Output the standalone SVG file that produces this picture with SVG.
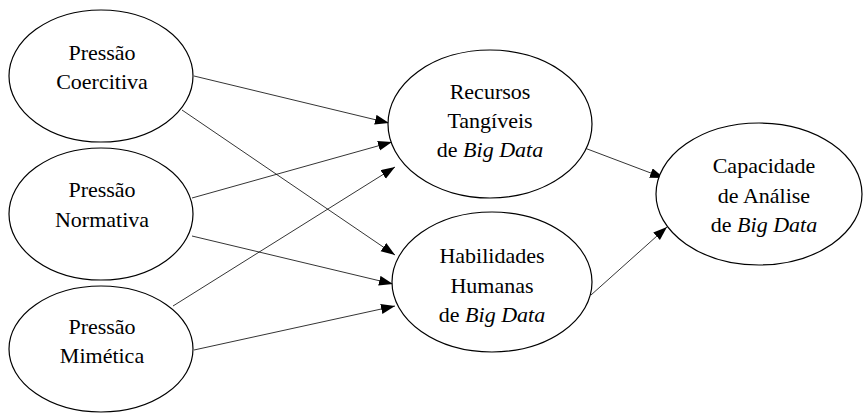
<svg xmlns="http://www.w3.org/2000/svg" width="864" height="414" viewBox="0 0 864 414">
<style>
.node ellipse{fill:#fff;stroke:#000;stroke-width:1.2}
.node text{font-family:"Liberation Serif","Times New Roman",serif;font-size:22px;fill:#000;text-anchor:middle}
.it{font-style:italic}
#connectors line{stroke:#000;stroke-width:0.8}
</style>
<defs>
<marker id="ah" markerUnits="userSpaceOnUse" markerWidth="15" markerHeight="11" refX="14" refY="5" orient="auto">
<path d="M0,0 L14,5 L0,10 z" fill="#000"/>
</marker>
</defs>
<rect width="864" height="414" fill="#fff"/>
<g id="connectors">
<line x1="194" y1="76" x2="389" y2="123" marker-end="url(#ah)"/>
<line x1="192" y1="198" x2="392" y2="142" marker-end="url(#ah)"/>
<line x1="173" y1="306" x2="395" y2="167" marker-end="url(#ah)"/>
<line x1="182" y1="110" x2="395" y2="255" marker-end="url(#ah)"/>
<line x1="192" y1="236" x2="393" y2="284" marker-end="url(#ah)"/>
<line x1="194" y1="350" x2="395" y2="306" marker-end="url(#ah)"/>
<line x1="582" y1="147" x2="664" y2="178" marker-end="url(#ah)"/>
<line x1="591" y1="295" x2="667" y2="227" marker-end="url(#ah)"/>
</g>
<g id="coercitiva" class="node">
<ellipse cx="101" cy="76" rx="92" ry="66"/>
<text x="102" y="60">Pressão</text>
<text x="102" y="89">Coercitiva</text>
</g>
<g id="normativa" class="node">
<ellipse cx="101" cy="214" rx="92" ry="66"/>
<text x="102" y="197">Pressão</text>
<text x="102" y="227">Normativa</text>
</g>
<g id="mimetica" class="node">
<ellipse cx="101" cy="349" rx="92" ry="63"/>
<text x="102" y="334">Pressão</text>
<text x="102" y="363">Mimética</text>
</g>
<g id="recursos" class="node">
<ellipse cx="490" cy="124" rx="102" ry="74"/>
<text x="490" y="99">Recursos</text>
<text x="490" y="128">Tangíveis</text>
<text x="490" y="157">de <tspan class="it">Big Data</tspan></text>
</g>
<g id="habilidades" class="node">
<ellipse cx="492" cy="282" rx="100" ry="70"/>
<text x="492" y="263">Habilidades</text>
<text x="492" y="293">Humanas</text>
<text x="492" y="322">de <tspan class="it">Big Data</tspan></text>
</g>
<g id="capacidade" class="node">
<ellipse cx="759" cy="194" rx="103" ry="71"/>
<text x="764" y="173">Capacidade</text>
<text x="764" y="203">de Análise</text>
<text x="764" y="232">de <tspan class="it">Big Data</tspan></text>
</g>
</svg>
